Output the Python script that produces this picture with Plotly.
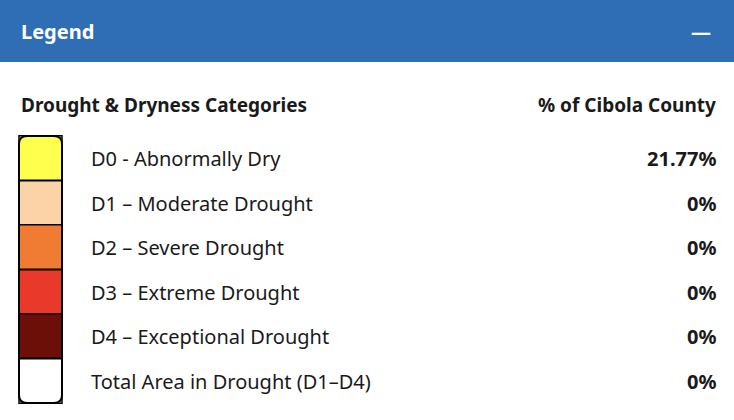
import plotly.graph_objects as go

labels = ["D0 - Abnormally Dry", "D1 – Moderate Drought", "D2 – Severe Drought",
          "D3 – Extreme Drought", "D4 – Exceptional Drought", "Total Area in Drought (D1–D4)"]
percents = ["21.77%", "0%", "0%", "0%", "0%", "0%"]
colors = ["#FFFF4D", "#FCD3A6", "#F07B32", "#E8392A", "#6B0F08", "#FFFFFF"]
rows = [158, 203, 247, 292, 336, 381]

font = "Noto Sans"
fig = go.Figure()

# colour swatches as horizontal bars on a pixel-sized axis
fig.add_trace(go.Bar(
    y=rows, x=[43] * len(rows), base=19, orientation="h", width=44.6,
    marker=dict(color=colors, line=dict(color="black", width=1.5)),
    hoverinfo="skip",
))

# header band
fig.add_shape(type="rect", x0=0, x1=734, y0=0, y1=62, fillcolor="#2F6DB5",
              line_width=0, layer="below")
# rounded outline around swatch column
fig.add_shape(type="path", path="M 27,136 L 54,136 Q 62,136 62,144 L 62,395 Q 62,403 54,403 "
              "L 27,403 Q 19,403 19,395 L 19,144 Q 19,136 27,136 Z",
              line=dict(color="black", width=2))

ann = [
    dict(x=19, y=31, text="<b>Legend</b>", xanchor="left", font=dict(size=20, color="white")),
    dict(x=713, y=31, text="<b>—</b>", xanchor="right", font=dict(size=20, color="white")),
    dict(x=19, y=105, text="<b>Drought & Dryness Categories</b>", xanchor="left", font=dict(size=19)),
    dict(x=718, y=105, text="<b>% of Cibola County</b>", xanchor="right", font=dict(size=19)),
]
for y, lab, p in zip(rows, labels, percents):
    ann.append(dict(x=89, y=y, text=lab, xanchor="left", font=dict(size=20)))
    ann.append(dict(x=718, y=y, text=f"<b>{p}</b>", xanchor="right", font=dict(size=20)))
for a in ann:
    a.update(xref="x", yref="y", showarrow=False, yanchor="middle")
    a["font"].setdefault("color", "#1a1a1a")
    a["font"]["family"] = font

fig.update_layout(
    width=734, height=420, margin=dict(l=0, r=0, t=0, b=0),
    plot_bgcolor="white", paper_bgcolor="white", showlegend=False,
    annotations=ann,
    xaxis=dict(range=[0, 734], visible=False, fixedrange=True),
    yaxis=dict(range=[420, 0], visible=False, fixedrange=True),
)
fig.write_html("out.html", config={"displayModeBar": False},
               post_script="document.body.style.margin='0';")
